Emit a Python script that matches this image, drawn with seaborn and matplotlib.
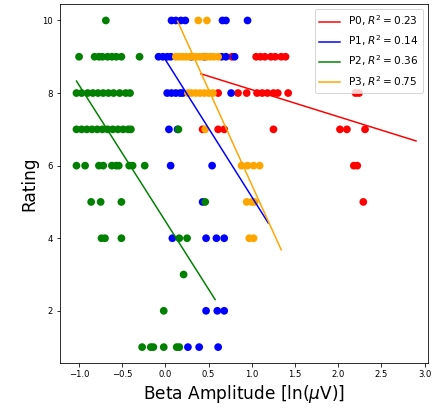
import numpy as np
import pandas as pd
import matplotlib
matplotlib.use('Agg')
import matplotlib.pyplot as plt
import seaborn as sns

# beta amplitude (x) and rating (y) per participant
p0_x = [1.05, 1.10, 1.15, 1.22, 1.27, 1.34, 1.39, 0.77,
        0.61, 0.84, 0.94, 1.06, 1.12, 1.18, 1.25, 1.30, 1.42, 2.20, 2.24,
        0.43, 0.61, 0.68, 1.25, 2.02, 2.10, 2.31,
        2.18, 2.22,
        2.29]
p0_y = [9, 9, 9, 9, 9, 9, 9, 9,
        8, 8, 8, 8, 8, 8, 8, 8, 8, 8, 8,
        7, 7, 7, 7, 7, 7, 7,
        6, 6,
        5]

p1_x = [0.07, 0.12, 0.18, 0.23, 0.66, 0.70, 0.95,
        -0.08, -0.03, 0.02, 0.06, 0.30, 0.45, 0.65, 0.70, 0.80,
        0.02, 0.07, 0.12, 0.17, 0.20, 0.76,
        0.04, 0.14,
        0.06, 0.54,
        0.43,
        0.08, 0.47, 0.59, 0.68,
        0.47, 0.60, 0.68,
        0.26, 0.39, 0.61]
p1_y = [10, 10, 10, 10, 10, 10, 10,
        9, 9, 9, 9, 9, 9, 9, 9, 9,
        8, 8, 8, 8, 8, 8,
        7, 7,
        6, 6,
        5,
        4, 4, 4, 4,
        2, 2, 2,
        1, 1, 1]

p2_x = [-0.69,
        -1.00, -0.82, -0.77, -0.73, -0.67, -0.62, -0.57, -0.51, -0.30,
        -1.03, -0.97, -0.90, -0.84, -0.78, -0.72, -0.66, -0.60, -0.53, -0.46, -0.41,
        -1.03, -0.97, -0.91, -0.85, -0.79, -0.73, -0.67, -0.61, -0.55, -0.49, -0.43, -0.40, 0.15,
        -1.03, -0.93, -0.77, -0.72, -0.62, -0.57, -0.54, -0.42, -0.38, -0.24,
        -0.86, -0.75, -0.51, 0.46,
        -0.74, -0.70, -0.51, 0.16, 0.25,
        0.21,
        -0.02,
        -0.27, -0.17, -0.14, -0.02, 0.13, 0.16]
p2_y = [10,
        9, 9, 9, 9, 9, 9, 9, 9, 9,
        8, 8, 8, 8, 8, 8, 8, 8, 8, 8, 8,
        7, 7, 7, 7, 7, 7, 7, 7, 7, 7, 7, 7, 7,
        6, 6, 6, 6, 6, 6, 6, 6, 6, 6,
        5, 5, 5, 5,
        4, 4, 4, 4, 4,
        3,
        2,
        1, 1, 1, 1, 1, 1]

p3_x = [0.38, 0.48,
        0.12, 0.16, 0.20, 0.24, 0.28, 0.32, 0.36, 0.40, 0.44, 0.48, 0.52, 0.56, 0.61,
        0.26, 0.30, 0.35, 0.40, 0.45, 0.50, 0.55,
        0.46,
        0.88, 0.95, 1.02, 1.09,
        0.94, 1.00, 1.03,
        0.97, 1.02]
p3_y = [10, 10,
        9, 9, 9, 9, 9, 9, 9, 9, 9, 9, 9, 9, 9,
        8, 8, 8, 8, 8, 8, 8,
        7,
        6, 6, 6, 6,
        5, 5, 5,
        4, 4]

# linear fits as shown in the reference
participants = ['P0', 'P1', 'P2', 'P3']
colors = ['red', 'blue', 'green', 'orange']
r2 = [0.23, 0.14, 0.36, 0.75]
slope = [-0.743, -3.777, -3.751, -5.25]
intercept = [8.835, 8.915, 4.467, 10.715]
fit_x_start = [0.41, -0.02, -1.03, 0.14]
fit_x_end = [2.90, 1.19, 0.575, 1.34]

xs = [p0_x, p1_x, p2_x, p3_x]
ys = [p0_y, p1_y, p2_y, p3_y]
df = pd.concat([pd.DataFrame({'beta': x, 'rating': y, 'participant': p})
                for x, y, p in zip(xs, ys, participants)], ignore_index=True)

fig = plt.figure(figsize=(6.0, 413 / 72), dpi=72)
ax = fig.add_axes([0.139, 0.12, 0.852, 0.87])

sns.scatterplot(data=df, x='beta', y='rating', hue='participant',
                palette=dict(zip(participants, colors)), s=60, linewidth=0,
                alpha=1, legend=False, ax=ax)

for p, c, r, m, b, x0, x1 in zip(participants, colors, r2, slope, intercept,
                                 fit_x_start, fit_x_end):
    line_x = np.array([x0, x1])
    ax.plot(line_x, m * line_x + b, color=c, lw=1.5,
            label=f'{p}, $R^2 = {r:.2f}$')

ax.set_xlim(-1.22, 3.04)
ax.set_ylim(0.55, 10.45)
ax.set_xticks(np.arange(-1.0, 3.01, 0.5))
ax.set_yticks([2, 4, 6, 8, 10])
ax.tick_params(labelsize=8.5)
ax.set_xlabel('Beta Amplitude [ln($\\mu$V)]', fontsize=17)
ax.set_ylabel('Rating', fontsize=17)
ax.legend(loc='upper right', fontsize=10.5)

plt.savefig('out.png', dpi=72)
